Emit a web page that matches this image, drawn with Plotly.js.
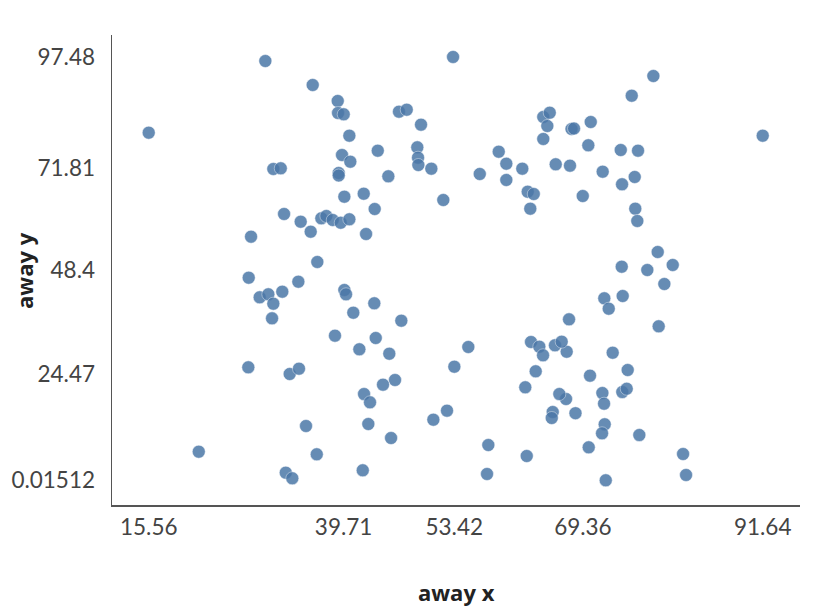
<!DOCTYPE html>
<html>
<head>
<meta charset="utf-8">
<script src="https://cdn.plot.ly/plotly-3.0.1.min.js"></script>
<style>
html,body{margin:0;padding:0;background:#fff;}
#chart{width:832px;height:610px;}
</style>
</head>
<body>
<div id="chart"></div>
<script>
// "away" dataset values
var awayX = [
  30.01, 35.88, 38.98, 39.02, 39.72, 40.42, 15.56, 39.51, 40.54, 31.00,
  31.92, 39.10, 39.10, 39.80, 32.33, 34.39, 35.63, 36.95, 37.57, 38.36,
  39.35, 40.42, 28.24, 36.45, 27.95,
  53.27, 46.57, 47.53, 49.30, 43.94, 48.84, 48.93, 48.97, 50.58, 45.25,
  42.20, 43.56, 52.06, 42.49, 56.58, 58.93, 59.87, 59.87, 61.85, 62.52,
  63.27, 62.84, 64.45, 65.25, 64.95, 64.45, 65.99,
  78.09, 75.41, 67.95, 68.26, 70.33, 70.03, 74.05, 76.19, 67.76, 71.81,
  75.78, 74.21, 69.34, 75.85, 76.10, 91.64, 78.63, 74.17, 77.34, 80.49,
  79.45, 72.01, 74.29, 72.56, 67.64, 78.75, 67.35, 73.05, 74.91, 70.24,
  71.77, 74.24, 74.79, 71.98, 67.27, 68.44, 72.06, 71.73, 76.35, 70.08,
  81.77, 82.14, 72.19,
  43.51, 40.91, 46.86, 43.69, 41.66, 45.37, 55.16, 53.43, 46.08, 44.59,
  42.24, 42.98, 42.77, 45.59, 42.08, 50.83, 52.52, 57.64, 57.48, 62.40,
  62.93, 63.96, 64.42, 65.90, 66.73, 63.51, 62.22, 66.44, 65.62, 65.50,
  34.10, 29.31, 30.38, 32.11, 31.00, 30.84, 39.80, 40.01, 38.64, 27.90,
  33.03, 34.18, 35.05, 21.76, 36.38, 32.54, 33.35
];
var awayY = [
  96.55, 91.03, 87.35, 84.58, 84.28, 79.36, 80.05, 74.91, 73.37, 71.69,
  71.85, 70.77, 70.19, 65.31, 61.33, 59.55, 57.25, 60.34, 60.87, 59.95,
  59.32, 60.11, 56.10, 50.28, 46.66,
  97.48, 84.88, 85.34, 81.89, 75.90, 76.68, 74.29, 72.61, 71.76, 70.01,
  66.00, 62.48, 64.55, 56.72, 70.54, 75.67, 72.91, 69.16, 71.76, 66.46,
  65.93, 62.55, 83.66, 84.65, 81.59, 78.60, 72.77,
  93.10, 88.56, 80.90, 81.01, 82.51, 77.15, 76.06, 75.90, 72.45, 71.07,
  69.85, 68.17, 65.47, 62.55, 59.72, 79.36, 52.58, 49.19, 48.43, 49.59,
  45.21, 41.92, 42.45, 39.52, 37.08, 35.47, 29.62, 29.39, 25.41, 24.10,
  20.11, 20.34, 21.10, 17.65, 18.73, 15.46, 12.91, 10.84, 10.44, 7.61,
  6.07, 1.24, 0.0151,
  40.77, 38.60, 36.76, 32.78, 30.18, 29.16, 30.71, 26.17, 23.11, 22.03,
  19.88, 17.97, 12.98, 9.75, 2.32, 13.97, 16.04, 8.14, 1.47, 5.61,
  31.86, 30.78, 28.80, 31.10, 31.93, 25.11, 21.43, 19.88, 15.74, 14.36,
  45.74, 42.15, 42.84, 43.44, 40.68, 37.31, 43.83, 42.84, 33.31, 26.03,
  24.49, 25.71, 12.52, 6.60, 6.00, 1.77, 0.48
];
var xTickVals = [15.56, 39.71, 53.42, 69.36, 91.64];
var xTickText = ["15.56", "39.71", "53.42", "69.36", "91.64"];
var yTickVals = [0.01512, 24.47, 48.4, 71.81, 97.48];
var yTickText = ["0.01512", "24.47", "48.4", "71.81", "97.48"];
var xTitle = "away x";
var yTitle = "away y";

var trace = {
  type: 'scatter',
  mode: 'markers',
  x: awayX,
  y: awayY,
  marker: {
    size: 13,
    color: '#4c78a8',
    opacity: 0.85,
    line: {width: 0.8, color: 'rgba(255,255,255,0.6)'}
  },
  hoverinfo: 'x+y'
};

var tickFam = 'Lato, "Open Sans", sans-serif';
var titleFam = '"Open Sans", Lato, sans-serif';
var titleFont = {size: 22, color: '#222222', family: titleFam, weight: 'bold'};
var layout = {
  width: 832,
  height: 610,
  margin: {l: 112, r: 32, t: 35, b: 105},
  paper_bgcolor: '#ffffff',
  plot_bgcolor: '#ffffff',
  showlegend: false,
  font: {family: tickFam, color: '#444444'},
  xaxis: {
    range: [11.01, 96.26],
    tickmode: 'array',
    tickvals: xTickVals,
    ticktext: xTickText,
    showgrid: false,
    zeroline: false,
    showline: true,
    linecolor: '#555555',
    linewidth: 1.5,
    ticks: '',
    ticklabelstandoff: 1,
    tickfont: {size: 22.5, color: '#444444', family: tickFam}
  },
  yaxis: {
    range: [-5.67, 102.54],
    tickmode: 'array',
    tickvals: yTickVals,
    ticktext: yTickText,
    showgrid: false,
    zeroline: false,
    showline: true,
    linecolor: '#555555',
    linewidth: 1.5,
    ticks: '',
    ticklabelstandoff: 11,
    tickfont: {size: 22.5, color: '#444444', family: tickFam}
  },
  annotations: [
    {text: xTitle, xref: 'paper', yref: 'paper', x: 0.5, y: -0.185,
     xanchor: 'center', yanchor: 'middle', showarrow: false, font: titleFont},
    {text: yTitle, xref: 'paper', yref: 'paper', x: -0.128, y: 0.5,
     xanchor: 'center', yanchor: 'middle', textangle: -90, showarrow: false, font: titleFont}
  ]
};

Plotly.newPlot('chart', [trace], layout, {displayModeBar: false, staticPlot: true});
</script>
</body>
</html>
